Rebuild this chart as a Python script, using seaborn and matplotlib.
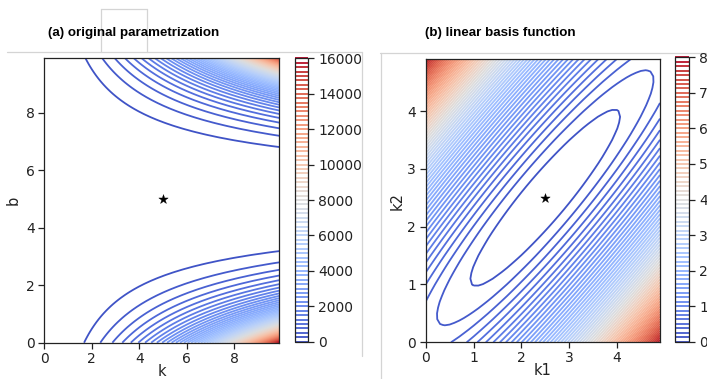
import numpy as np
import matplotlib
matplotlib.use("Agg")
import matplotlib.pyplot as plt
from matplotlib.lines import Line2D
import seaborn as sns

# ---------------- data / model parameters ----------------
k_values = np.arange(0, 10, 0.1)      # panel (a) horizontal parameter k
b_values = np.arange(0, 10, 0.1)      # panel (a) vertical parameter b
k1_values = np.arange(0, 5, 0.1)      # panel (b) horizontal parameter k1
k2_values = np.arange(0, 5, 0.1)      # panel (b) vertical parameter k2

optimum_a = [5.0, 5.0]                # star in panel (a)
optimum_b = [2.5, 2.5]                # star in panel (b)

# loss surface coefficients of panel (a)
loss_a_scale = 2032.0
loss_a_curvature = 0.28
loss_a_span = 4.9
loss_a_power = 1.75
loss_a_floor = 5.0

# quadratic (Hessian) coefficients of panel (b)
hess_b = [[0.331, -0.3155],
          [-0.3155, 0.35]]
loss_b_floor = 0.01

levels_a = np.arange(0, 16001, 250)
levels_b = np.arange(0, 8.001, 0.125)
cbar_ticks_a = [0, 2000, 4000, 6000, 8000, 10000, 12000, 14000, 16000]
cbar_ticks_b = [0, 1, 2, 3, 4, 5, 6, 7, 8]
xticks_a = [0, 2, 4, 6, 8]
yticks_a = [0, 2, 4, 6, 8]
xticks_b = [0, 1, 2, 3, 4]
yticks_b = [0, 1, 2, 3, 4]

titles = ["(a) original parametrization", "(b) linear basis function"]

# ---------------- surfaces ----------------
K, B = np.meshgrid(k_values, b_values)
z = K * (np.abs(B - optimum_a[1]) / loss_a_span) ** loss_a_power
loss_a = loss_a_scale * (np.cosh(loss_a_curvature * z) - 1) + loss_a_floor

K1, K2 = np.meshgrid(k1_values, k2_values)
U = K1 - optimum_b[0]
V = K2 - optimum_b[1]
loss_b = (hess_b[0][0] * U ** 2 + 2 * hess_b[0][1] * U * V
          + hess_b[1][1] * V ** 2 + loss_b_floor)

# ---------------- style ----------------
sns.set_theme(style="ticks", rc={
    "axes.edgecolor": "#222222",
    "axes.linewidth": 0.9,
    "xtick.color": "#222222",
    "ytick.color": "#222222",
    "xtick.major.size": 4,
    "ytick.major.size": 4,
    "xtick.major.pad": 2.5,
    "ytick.major.pad": 3,
    "xtick.major.width": 0.9,
    "ytick.major.width": 0.9,
    "xtick.labelsize": 10,
    "ytick.labelsize": 10,
    "axes.labelsize": 10.5,
    "axes.labelcolor": "#222222",
})
plt.rcParams["font.family"] = ["DejaVu Sans"]

W, H = 707, 379
fig = plt.figure(figsize=(W / 100, H / 100), dpi=100)
fig.patch.set_facecolor("white")


def rect(x0, y0, x1, y1):
    return [x0 / W, 1 - y1 / H, (x1 - x0) / W, (y1 - y0) / H]


ax_a = fig.add_axes(rect(44.3, 58.3, 279.3, 342.7))
cax_a = fig.add_axes(rect(295, 58.3, 308.3, 341.7))
ax_b = fig.add_axes(rect(425.7, 59, 660, 342.3))
cax_b = fig.add_axes(rect(675, 57.3, 689.3, 341.7))

# panel (a)
cs_a = ax_a.contour(K, B, loss_a, levels=levels_a, cmap="coolwarm", linewidths=1.3)
sns.scatterplot(x=[optimum_a[0]], y=[optimum_a[1]], marker="*", s=50,
                color="black", edgecolor="black", linewidth=0.3, ax=ax_a, zorder=5)
ax_a.set_xlim(k_values[0], k_values[-1])
ax_a.set_ylim(b_values[0], b_values[-1])
ax_a.set_xticks(xticks_a)
ax_a.set_yticks(yticks_a)
ax_a.set_xlabel("k", labelpad=-1.5)
ax_a.set_ylabel("b", labelpad=4)
cb_a = fig.colorbar(cs_a, cax=cax_a, ticks=cbar_ticks_a)
cb_a.outline.set_linewidth(0.9)
cb_a.ax.tick_params(labelsize=10, length=4)

# panel (b)
cs_b = ax_b.contour(K1, K2, loss_b, levels=levels_b, cmap="coolwarm", linewidths=1.3)
sns.scatterplot(x=[optimum_b[0]], y=[optimum_b[1]], marker="*", s=50,
                color="black", edgecolor="black", linewidth=0.3, ax=ax_b, zorder=5)
ax_b.set_xlim(k1_values[0], k1_values[-1])
ax_b.set_ylim(k2_values[0], k2_values[-1])
ax_b.set_xticks(xticks_b)
ax_b.set_yticks(yticks_b)
ax_b.set_xlabel("k1", labelpad=-1.5)
ax_b.set_ylabel("k2", labelpad=2)
cb_b = fig.colorbar(cs_b, cax=cax_b, ticks=cbar_ticks_b)
cb_b.outline.set_linewidth(0.9)
cb_b.ax.tick_params(labelsize=10, length=4)

for ax in (ax_a, ax_b):
    for sp in ax.spines.values():
        sp.set_visible(True)

# titles
fig.text(48 / W, 1 - 33 / H, titles[0], ha="left", va="center", fontsize=9.6,
         fontweight="bold", family=["Liberation Sans", "DejaVu Sans"], color="black")
fig.text(425 / W, 1 - 33 / H, titles[1], ha="left", va="center", fontsize=9.6,
         fontweight="bold", family=["Liberation Sans", "DejaVu Sans"], color="black")

# light page-layout frame lines seen in the screenshot
gray = "#d4d4d4"
frame_lines = [
    ([7, 362], [52, 52]),
    ([100.5, 100.5], [9, 52]),
    ([146.5, 146.5], [9, 52]),
    ([100.5, 146.5], [9, 9]),
    ([362, 362], [52, 356]),
    ([380, 707], [52.5, 52.5]),
    ([380.5, 380.5], [52.5, 379]),
]
for xs, ys in frame_lines:
    fig.add_artist(Line2D([x / W for x in xs], [1 - y / H for y in ys],
                          transform=fig.transFigure, color=gray, lw=0.9, zorder=0))

fig.savefig("out.png", dpi=100, facecolor="white")
